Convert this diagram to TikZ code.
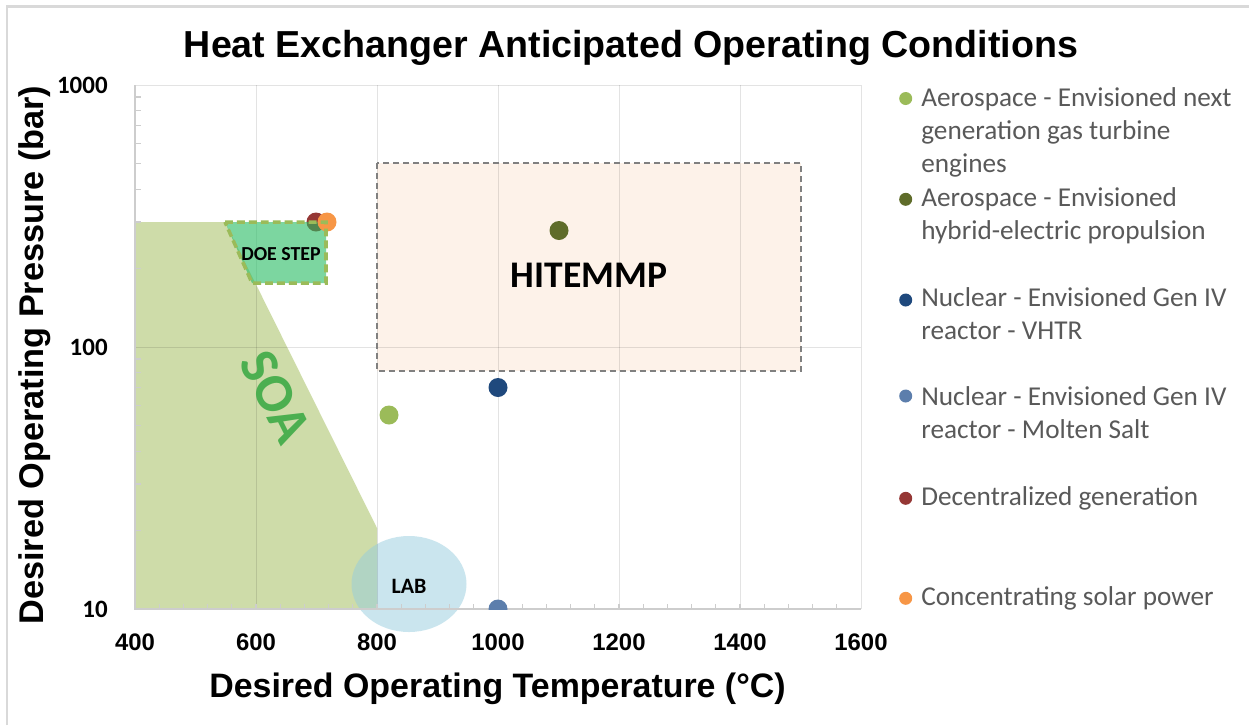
\documentclass[tikz,border=0pt]{standalone}
\usepackage{fontspec}
\setmainfont{Carlito}
\newfontfamily\arialf{Liberation Sans}
\definecolor{gridc}{RGB}{217,217,217}
\definecolor{axisc}{RGB}{205,205,205}
\definecolor{legtext}{RGB}{89,89,89}
\definecolor{soabase}{RGB}{159,187,85}
\definecolor{soatext}{RGB}{76,175,80}
\definecolor{hitfill}{RGB}{253,242,233}
\definecolor{hitline}{RGB}{128,128,128}
\definecolor{labbase}{RGB}{150,205,222}
\definecolor{doebase}{RGB}{38,187,97}
\definecolor{doeline}{RGB}{155,187,89}
\definecolor{cLgreen}{RGB}{155,187,89}
\definecolor{cDgreen}{RGB}{95,108,42}
\definecolor{cDblue}{RGB}{31,73,125}
\definecolor{cSblue}{RGB}{92,126,172}
\definecolor{cRed}{RGB}{149,55,53}
\definecolor{cOrange}{RGB}{247,150,70}
\tikzset{
  gridline/.style={draw=black, opacity=0.11, line width=0.5pt},
  tickmark/.style={draw=axisc, line width=0.6pt},
  dot/.style={circle, inner sep=0pt, minimum size=19*0.02cm},
  legdot/.style={circle, inner sep=0pt, minimum size=13*0.02cm},
  legline/.style={anchor=base west, inner sep=0pt, text=legtext, font=\fontsize{15.5}{18.7}\selectfont},
  ytick/.style={anchor=base east, inner sep=0pt, font=\fontsize{14.2}{16}\selectfont\bfseries},
  xtick/.style={anchor=base, inner sep=0pt, font=\arialf\fontsize{13.6}{15}\selectfont\bfseries},
}
\begin{document}
\begin{tikzpicture}[x=0.02cm,y=-0.02cm]
\useasboundingbox (0,0) rectangle (1249,725);
\fill[white] (0,0) rectangle (1249,725);
% chart frame
\draw[gridc, line width=1.2pt] (7,725) -- (7,6.5) -- (1249,6.5);
% filled regions
\fill[soabase, opacity=0.5] (135,222) -- (225,222) -- (377,528) -- (377,609) -- (135,609) -- cycle;
\fill[hitfill] (377,163) rectangle (801,371);
\fill[labbase, opacity=0.5] (409,584) ellipse [x radius=57.5, y radius=48];
% gridlines
\foreach \gx in {256,377,498,619,740,861} {\draw[gridline] (\gx,85) -- (\gx,609);}
\draw[gridline] (135,85) -- (861,85);
\draw[gridline] (135,347) -- (861,347);
% axes
\draw[axisc, line width=1pt] (135,85) -- (135,609) -- (861,609);
\foreach \i in {1,...,29} {\draw[tickmark] ({135+\i*24.2},609) -- ({135+\i*24.2},603.5);}
\foreach \d in {0,1} {\foreach \m in {2,...,9} {\draw[tickmark] (135,{609-262*(\d+log10(\m))}) -- (141,{609-262*(\d+log10(\m))});}}
% HITEMMP border
\draw[hitline, line width=1.1pt, dash pattern=on 3.4pt off 2.3pt] (377,163) rectangle (801,371);
% data points
\node[dot, fill=cLgreen] (p1) at (389,415) {};
\node[dot, fill=cDblue] (p3) at (498,387.5) {};
\begin{scope}
\clip (135,85) rectangle (861,609);
\node[dot, fill=cSblue] (p4) at (498,609) {};
\end{scope}
\node[dot, fill=cDgreen] (p2) at (559,230.5) {};
\node[dot, fill=cRed] (p5) at (316,222) {};
% DOE STEP region
\fill[doebase, opacity=0.6] (225,222) -- (326,222) -- (326,283) -- (252,283) -- cycle;
\node[dot, fill=cOrange] (p6) at (327,222) {};
\draw[doeline, line width=2pt, dash pattern=on 4.5pt off 2.3pt] (225,222) -- (326,222) -- (326,283) -- (252,283) -- cycle;
% region labels
\node[anchor=base, inner sep=0pt, font=\fontsize{11.3}{13}\selectfont\bfseries] (doe) at (281,260) {DOE STEP};
\node[anchor=base, inner sep=0pt, font=\fontsize{21.4}{24}\selectfont\bfseries] (hit) at (589,287) {HITEMMP};
\node[anchor=base, inner sep=0pt, font=\fontsize{12.5}{14}\selectfont\bfseries] (lab) at (409,593) {LAB};
\node[inner sep=0pt, rotate=-63.4, text=soatext, font=\fontsize{31}{34}\selectfont\bfseries] (soa) at (276,397) {SOA};
% title and axis titles
\node[anchor=base, inner sep=0pt, font=\arialf\fontsize{21.4}{24}\selectfont\bfseries] (title) at (631,57) {Heat Exchanger Anticipated Operating Conditions};
\node[anchor=base, inner sep=0pt, font=\arialf\fontsize{19.3}{22}\selectfont\bfseries] (xlab) at (497.5,697) {Desired Operating Temperature (°C)};
\node[anchor=base, inner sep=0pt, rotate=90, font=\arialf\fontsize{19.5}{22}\selectfont\bfseries] (ylab) at (43,355) {Desired Operating Pressure (bar)};
% tick labels
\node[ytick] (y1000) at (108,93) {1000};
\node[ytick] (y100) at (108,355) {100};
\node[ytick] (y10) at (108,617) {10};
\node[xtick] (x400) at (135,650) {400};
\node[xtick] (x600) at (256,650) {600};
\node[xtick] (x800) at (377,650) {800};
\node[xtick] (x1000) at (498,650) {1000};
\node[xtick] (x1200) at (619,650) {1200};
\node[xtick] (x1400) at (740,650) {1400};
\node[xtick] (x1600) at (861,650) {1600};
% legend
\node[legdot, fill=cLgreen] (b1) at (905.7,98.5) {};
\node[legline] (l1a) at (921,106.7) {Aerospace - Envisioned next};
\node[legline] (l1b) at (921,139.7) {generation gas turbine};
\node[legline] (l1c) at (921,172.7) {engines};
\node[legdot, fill=cDgreen] (b2) at (905.7,199.3) {};
\node[legline] (l2a) at (921,206.7) {Aerospace - Envisioned};
\node[legline] (l2b) at (921,239.7) {hybrid-electric propulsion};
\node[legdot, fill=cDblue] (b3) at (905.7,300) {};
\node[legline] (l3a) at (921,306.7) {Nuclear - Envisioned Gen IV};
\node[legline] (l3b) at (921,339.7) {reactor - VHTR};
\node[legdot, fill=cSblue] (b4) at (905.7,396) {};
\node[legline] (l4a) at (921,405.7) {Nuclear - Envisioned Gen IV};
\node[legline] (l4b) at (921,438.7) {reactor - Molten Salt};
\node[legdot, fill=cRed] (b5) at (905.7,498.3) {};
\node[legline] (l5) at (921,505.7) {Decentralized generation};
\node[legdot, fill=cOrange] (b6) at (905.7,598.3) {};
\node[legline] (l6) at (921,605.7) {Concentrating solar power};
\end{tikzpicture}
\end{document}
